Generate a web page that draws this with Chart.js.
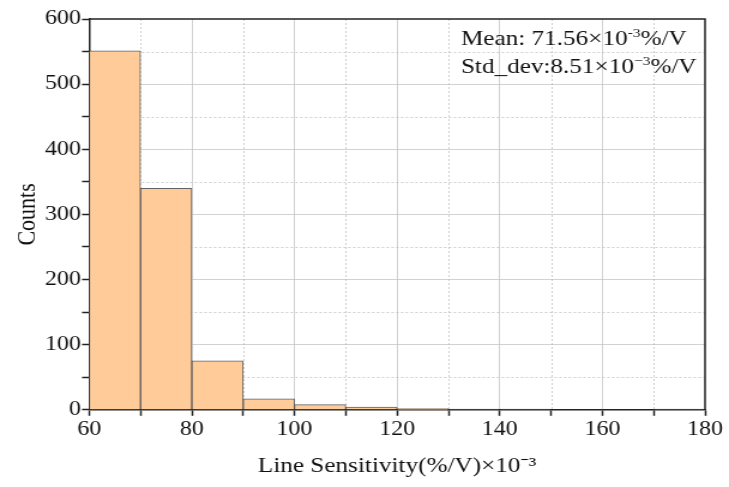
<!DOCTYPE html>
<html><head><meta charset="utf-8">
<script src="https://cdn.jsdelivr.net/npm/chart.js@4/dist/chart.umd.min.js"></script>
<style>html,body{margin:0;padding:0;background:#fff;overflow:hidden}#c{display:block;width:729px;height:487px}</style>
</head><body><canvas id="c" width="608" height="487" style="width:729px;height:487px"></canvas>
<script>
const binStarts = [60, 70, 80, 90, 100, 110, 120, 130, 140, 150, 160, 170];
const binWidth = 10;
const counts = [551, 340, 75, 17, 8, 4, 2, 1, 1, 0, 0, 1];
const xTicks = [60, 80, 100, 120, 140, 160, 180];
const yTicks = [0, 100, 200, 300, 400, 500, 600];
const statLines = [["Mean: 71.56×10", "-3", "%/V"], ["Std_dev:8.51×10", "−3", "%/V"]];

const FONT = "'Liberation Serif', 'Times New Roman', serif";
const data = binStarts.map((s, i) => ({x: s + binWidth / 2, y: counts[i]}));

const frame = {
  id: 'frame',
  beforeDatasetsDraw(chart) {
    const {ctx, chartArea: a, scales: {x, y}} = chart;
    ctx.save();
    ctx.strokeStyle = 'rgba(175,175,175,0.6)';
    ctx.lineWidth = 1;
    ctx.setLineDash([2, 2]);
    for (let v = 70; v < 180; v += 20) {
      const px = Math.round(x.getPixelForValue(v)) + 0.5;
      ctx.beginPath(); ctx.moveTo(px, a.top); ctx.lineTo(px, a.bottom); ctx.stroke();
    }
    for (let v = 50; v < 600; v += 100) {
      const py = Math.round(y.getPixelForValue(v)) + 0.5;
      ctx.beginPath(); ctx.moveTo(a.left, py); ctx.lineTo(a.right, py); ctx.stroke();
    }
    ctx.restore();
  },
  afterDraw(chart) {
    const {ctx, chartArea: a} = chart;
    ctx.save();
    ctx.strokeStyle = '#222';
    ctx.lineWidth = 1.5;
    ctx.beginPath();
    ctx.moveTo(a.left, a.top); ctx.lineTo(a.right, a.top); ctx.lineTo(a.right, a.bottom);
    ctx.stroke();
    ctx.fillStyle = '#111';
    ctx.textBaseline = 'alphabetic';
    const x0 = a.left + 310;
    statLines.forEach((ln, i) => {
      const by = 45 + i * 28;
      let cx = x0;
      ctx.font = '21px ' + FONT;
      ctx.fillText(ln[0], cx, by); cx += ctx.measureText(ln[0]).width;
      ctx.font = '13px ' + FONT;
      ctx.fillText(ln[1], cx, by - 8); cx += ctx.measureText(ln[1]).width;
      ctx.font = '21px ' + FONT;
      ctx.fillText(ln[2], cx, by);
    });
    ctx.restore();
  }
};

new Chart(document.getElementById('c'), {
  type: 'bar',
  data: {datasets: [{
    data,
    backgroundColor: 'rgb(255,204,153)',
    borderColor: 'rgba(70,70,70,0.85)',
    borderWidth: 1,
    barPercentage: 1,
    categoryPercentage: 1,
    grouped: false
  }]},
  options: {
    responsive: false,
    devicePixelRatio: 1,
    animation: false,
    layout: {padding: {top: 19, right: 20, left: 10, bottom: 8}},
    plugins: {legend: {display: false}, tooltip: {enabled: false}},
    scales: {
      x: {
        type: 'linear', min: 60, max: 180, offset: false,
        afterBuildTicks(s) { const t = []; for (let v = 60; v <= 180; v += 10) t.push({value: v}); s.ticks = t; },
        ticks: {
          autoSkip: false, maxRotation: 0, color: '#111', padding: 2,
          font: {family: FONT, size: 20},
          callback: v => xTicks.includes(v) ? String(v) : ''
        },
        grid: {
          offset: false,
          color: c => (c.tick && xTicks.includes(c.tick.value) && c.tick.value !== 60 && c.tick.value !== 180) ? 'rgba(195,195,195,0.75)' : 'rgba(0,0,0,0)',
          tickColor: '#222', tickLength: 6, tickWidth: 1.5
        },
        border: {color: '#222', width: 1.5},
        title: {display: true, text: 'Line Sensitivity(%/V)×10⁻³', color: '#111', font: {family: FONT, size: 21}, padding: {top: 10, bottom: 0}}
      },
      y: {
        min: 0, max: 600,
        afterBuildTicks(s) { const t = []; for (let v = 0; v <= 600; v += 50) t.push({value: v}); s.ticks = t; },
        ticks: {
          autoSkip: false, color: '#111', padding: 1,
          font: {family: FONT, size: 20},
          callback: v => yTicks.includes(v) ? String(v) : ''
        },
        grid: {
          color: c => (c.tick && yTicks.includes(c.tick.value) && c.tick.value !== 0 && c.tick.value !== 600) ? 'rgba(195,195,195,0.75)' : 'rgba(0,0,0,0)',
          tickColor: '#222', tickLength: 6, tickWidth: 1.5
        },
        border: {color: '#222', width: 1.5},
        title: {display: true, text: 'Counts', color: '#111', font: {family: FONT, size: 22}, padding: {top: 0, bottom: 0}}
      }
    }
  },
  plugins: [frame]
});
</script></body></html>
